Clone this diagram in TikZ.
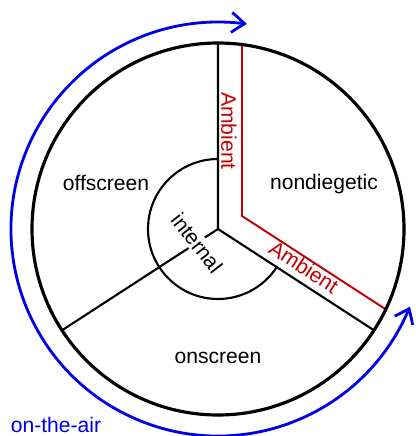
\documentclass[tikz,border=0pt]{standalone}
\usepackage{fontspec}
\setmainfont{Liberation Sans}
\usetikzlibrary{arrows.meta, calc, bending}
\definecolor{ambred}{RGB}{192,0,0}
\definecolor{airblue}{RGB}{0,0,230}
\tikzset{
  ring/.style={draw=black, line width=1.8pt},
  inner ring/.style={draw=black, line width=1.2pt},
  spoke/.style={draw=black, line width=1.2pt},
  ambient/.style={draw=ambred, line width=1.1pt},
  airarrow/.style={
    {Straight Barb[length=2.6mm, width=4mm, bend]}-{Straight Barb[length=2.6mm, width=4mm, bend]},
    line width=1.6pt, draw=airblue,
  },
  zone/.style={font=\fontsize{12}{14}\selectfont, align=center, inner sep=1pt},
  amblabel/.style={zone, text=ambred},
}

\begin{document}
\begin{tikzpicture}
  \useasboundingbox (-4.36,-4.14) rectangle (3.96,4.58);

  \coordinate (o) at (0,0);
  \coordinate (top) at (90:3.72);
  \coordinate (right) at (-33:3.72);
  \coordinate (left) at (213:3.72);

  % ambient border, 0.48 off the spokes
  \coordinate (amb top) at ($(90:3.689)+(0:0.48)$);
  \coordinate (amb corner) at (28.5:0.546);
  \coordinate (amb end) at ($(-33:3.689)+(57:0.48)$);

  \draw[ambient] (amb top) -- (amb corner) -- (amb end);
  \draw[spoke] (top) -- (o) -- (right);
  \draw[spoke] (o) -- (left);
  \draw[inner ring] (90:1.4) arc[start angle=90, end angle=327, radius=1.4];
  \draw[ring] (o) circle (3.72);

  \node[zone, fill=white, rotate=-52] (internal) at (-0.42,-0.28) {internal};

  \node[amblabel, rotate=-90] (amb1) at (0.22,1.96) {Ambient};
  \node[amblabel, rotate=-33] (amb2) at (1.72,-0.76) {Ambient};

  \node[zone] (offscreen) at (-2.24,0.92) {offscreen};
  \node[zone] (nondiegetic) at (2.12,0.90) {nondiegetic};
  \node[zone] (onscreen) at (0,-2.58) {onscreen};

  \draw[airarrow] (-22:4.14) arc[start angle=-22, end angle=-278, radius=4.14];
  \node[zone, text=airblue] (air) at (-3.24,-3.92) {on-the-air};

\end{tikzpicture}
\end{document}
